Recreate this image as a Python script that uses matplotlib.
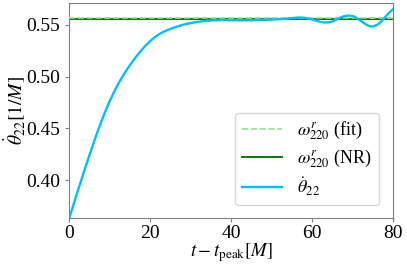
import matplotlib
matplotlib.use("Agg")
import matplotlib.pyplot as plt

plt.rcParams['font.family'] = 'serif'
plt.rcParams['font.serif'] = ['Liberation Serif', 'DejaVu Serif']
plt.rcParams['mathtext.fontset'] = 'stix'

# data
t = [0, 1, 2, 3, 4, 5, 6, 7, 8, 9, 10, 11, 12, 13, 14, 15, 16, 17, 18, 19, 20,
     21, 22, 23, 24, 25, 26, 27, 28, 29, 30, 31, 32, 33, 34, 35, 36, 38, 40, 42,
     44, 46, 48, 50, 52, 54, 55, 56, 57, 58, 59, 60, 61, 62, 63, 64, 64.5, 65,
     66, 67, 68, 69, 70, 70.5, 71, 72, 72.5, 73, 74, 74.5, 75, 76, 77, 78, 79, 80]
theta_dot = [0.3630, 0.3755, 0.3879, 0.4002, 0.4123, 0.4241, 0.4356, 0.4467, 0.4573,
             0.4672, 0.4763, 0.4846, 0.4922, 0.4990, 0.5053, 0.5111, 0.5165, 0.5216,
             0.5263, 0.5306, 0.5344, 0.5377, 0.5405, 0.5428, 0.5446, 0.5462, 0.5476,
             0.5489, 0.5500, 0.5510, 0.5518, 0.5525, 0.5531, 0.5536, 0.5540, 0.5543,
             0.5545, 0.5547, 0.5546, 0.5545, 0.5545, 0.5546, 0.5549, 0.5552, 0.5556,
             0.5562, 0.5566, 0.5570, 0.5572, 0.5570, 0.5563, 0.5552, 0.5540, 0.5530,
             0.5524, 0.5525, 0.5528, 0.5533, 0.5553, 0.5572, 0.5586, 0.5591, 0.5586,
             0.5578, 0.5566, 0.5540, 0.5527, 0.5512, 0.5490, 0.5485, 0.5486, 0.5500,
             0.5530, 0.5575, 0.5618, 0.5655]
omega_fit = 0.5563
omega_nr = 0.5556

fig = plt.figure(figsize=(4.07, 2.64), dpi=100)
ax = fig.add_axes([0.170, 0.173, 0.796, 0.814])
ax.axhline(omega_fit, color='#8fe38f', ls='--', lw=1.2, label=r'$\omega^r_{220}$ (fit)', zorder=3)
ax.axhline(omega_nr, color='#117a11', ls='-', lw=1.5, label=r'$\omega^r_{220}$ (NR)', zorder=2)
ax.plot(t, theta_dot, color='#00bfff', lw=1.7, label=r'$\dot{\theta}_{22}$', zorder=4)

ax.set_xlim(0, 80)
ax.set_ylim(0.363, 0.5708)
ax.set_xticks([0, 20, 40, 60, 80])
ax.set_yticks([0.40, 0.45, 0.50, 0.55])
ax.set_yticklabels(['0.40', '0.45', '0.50', '0.55'])
ax.tick_params(labelsize=14, color='#808080', length=3)
ax.tick_params(axis='x', pad=1.5)
for s in ax.spines.values():
    s.set_color('#808080')
ax.set_xlabel(r'$t - t_{\rm peak}[M]$', fontsize=13.5, labelpad=-0.5)
ax.set_ylabel(r'$\dot{\theta}_{22}[1/M]$', fontsize=14)
ax.yaxis.set_label_coords(-0.13, 0.5)
leg = ax.legend(loc='lower right', fontsize=13, bbox_to_anchor=(0.955, 0.06),
                borderaxespad=0, handlelength=2.2, labelspacing=0.3)
fig.savefig('out.png', dpi=100)
